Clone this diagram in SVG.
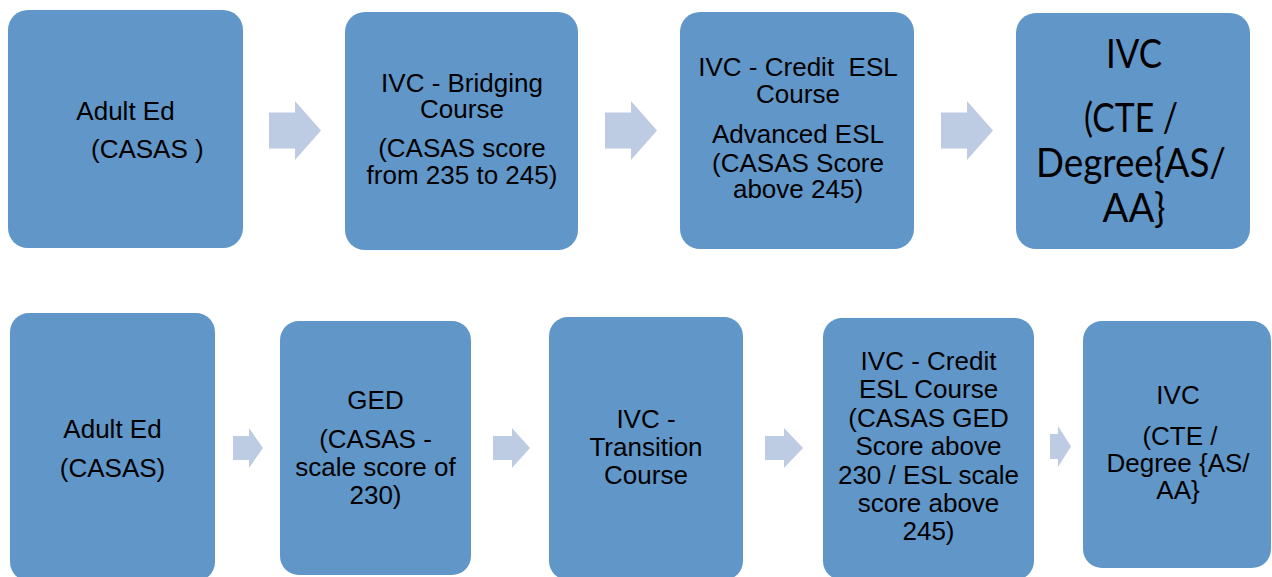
<svg xmlns="http://www.w3.org/2000/svg" width="1272" height="577" viewBox="0 0 1272 577">
<style>
.box{fill:#6096C8;}
.arr{fill:#BDCCE3;}
.t{font-family:"Liberation Sans",Arial,sans-serif;font-size:26px;fill:#000;text-anchor:middle;}
.c{font-family:Lato,"Open Sans",sans-serif;font-size:40px;fill:#000;text-anchor:middle;}
</style>
<rect width="1272" height="577" fill="#FFFFFF"/>
<g id="connectors">
<path class="arr" d="M269,112.5 H295 V101 L321,130.5 L295,160 V148.5 H269 Z"/>
<path class="arr" d="M605,112.5 H631 V101 L657,130.5 L631,160 V148.5 H605 Z"/>
<path class="arr" d="M941,112.5 H967 V101 L993,130.5 L967,160 V148.5 H941 Z"/>
<path class="arr" d="M233,436 H249 V428 L263,448 L249,468 V460 H233 Z"/>
<path class="arr" d="M493,436 H512 V428 L530,448 L512,468 V460 H493 Z"/>
<path class="arr" d="M765,436 H784 V428 L803,448 L784,468 V460 H765 Z"/>
<path class="arr" d="M1050,434 H1058 V426 L1071,446.5 L1058,467 V459 H1050 Z"/>
</g>
<g id="node1">
<rect class="box" x="8" y="10" width="235" height="238" rx="20"/>
<text class="t" x="125.5" y="120">Adult Ed</text>
<text class="t" x="91" y="158" style="text-anchor:start">(CASAS )</text>
</g>
<g id="node2">
<rect class="box" x="345" y="12" width="233" height="238" rx="20"/>
<text class="t" x="462" y="92">IVC - Bridging</text>
<text class="t" x="462" y="118">Course</text>
<text class="t" x="462" y="157">(CASAS score</text>
<text class="t" x="462" y="184">from 235 to 245)</text>
</g>
<g id="node3">
<rect class="box" x="680" y="12" width="234" height="237" rx="20"/>
<text class="t" x="798" y="76" style="white-space:pre">IVC - Credit  ESL</text>
<text class="t" x="798" y="103">Course</text>
<text class="t" x="798" y="143">Advanced ESL</text>
<text class="t" x="798" y="172">(CASAS Score</text>
<text class="t" x="798" y="198">above 245)</text>
</g>
<g id="node4">
<rect class="box" x="1016" y="13" width="234" height="236" rx="20"/>
<text class="c" x="1134" y="68" textLength="56" lengthAdjust="spacingAndGlyphs">IVC</text>
<text class="c" x="1131" y="132" textLength="94" lengthAdjust="spacingAndGlyphs">(CTE /</text>
<text class="c" x="1131" y="177" textLength="190" lengthAdjust="spacingAndGlyphs">Degree{AS/</text>
<text class="c" x="1134" y="222" textLength="63" lengthAdjust="spacingAndGlyphs">AA}</text>
</g>
<g id="node5">
<rect class="box" x="10" y="313" width="205" height="268" rx="19"/>
<text class="t" x="112.5" y="438">Adult Ed</text>
<text class="t" x="112.5" y="477">(CASAS)</text>
</g>
<g id="node6">
<rect class="box" x="280" y="321" width="191" height="254" rx="19"/>
<text class="t" x="375.5" y="409">GED</text>
<text class="t" x="375.5" y="448">(CASAS -</text>
<text class="t" x="375.5" y="476">scale score of</text>
<text class="t" x="375.5" y="504">230)</text>
</g>
<g id="node7">
<rect class="box" x="549" y="317" width="194" height="263" rx="19"/>
<text class="t" x="646" y="428">IVC -</text>
<text class="t" x="646" y="456">Transition</text>
<text class="t" x="646" y="484">Course</text>
</g>
<g id="node8">
<rect class="box" x="823" y="318" width="211" height="262" rx="19"/>
<text class="t" x="928.5" y="370">IVC - Credit</text>
<text class="t" x="928.5" y="398">ESL Course</text>
<text class="t" x="928.5" y="427">(CASAS GED</text>
<text class="t" x="928.5" y="455">Score above</text>
<text class="t" x="928.5" y="484">230 / ESL scale</text>
<text class="t" x="928.5" y="512">score above</text>
<text class="t" x="928.5" y="540">245)</text>
</g>
<g id="node9">
<rect class="box" x="1083" y="321" width="188" height="247" rx="19"/>
<text class="t" x="1178" y="404">IVC</text>
<text class="t" x="1180" y="445">(CTE /</text>
<text class="t" x="1178" y="472">Degree {AS/</text>
<text class="t" x="1178" y="499">AA}</text>
</g>
</svg>
